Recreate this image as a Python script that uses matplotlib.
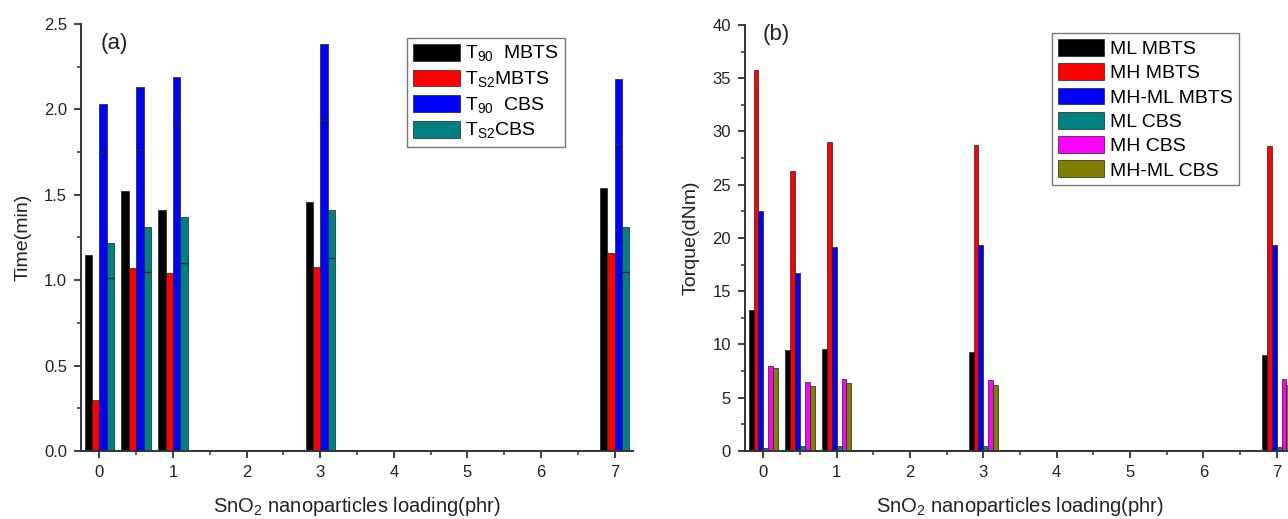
import numpy as np
import matplotlib.pyplot as plt
from matplotlib.ticker import MultipleLocator

plt.rcParams['font.family'] = ['Liberation Sans', 'DejaVu Sans']
plt.rcParams['mathtext.fontset'] = 'custom'
plt.rcParams['mathtext.rm'] = 'Liberation Sans'

loading = [0, 0.5, 1, 3, 7]

# panel (a) - times
t90_mbts = [1.15, 1.52, 1.41, 1.46, 1.54]
ts2_mbts = [0.30, 1.07, 1.04, 1.08, 1.16]
t90_cbs = [2.03, 2.13, 2.19, 2.38, 2.18]
ts2_cbs = [1.22, 1.31, 1.37, 1.41, 1.31]
# lower error caps visible inside the bars
t90_cbs_low = [1.75, 1.76, 1.91, 1.94, 1.80]
ts2_cbs_low = [1.01, 1.05, 1.10, 1.13, 1.05]

# panel (b) - torque
ml_mbts = [13.2, 9.5, 9.6, 9.3, 9.0]
mh_mbts = [35.8, 26.3, 29.0, 28.7, 28.6]
mhml_mbts = [22.5, 16.7, 19.2, 19.3, 19.3]
ml_cbs = [0.3, 0.5, 0.5, 0.5, 0.4]
mh_cbs = [8.0, 6.5, 6.8, 6.7, 6.8]
mhml_cbs = [7.8, 6.1, 6.4, 6.2, 6.2]

labels_a = [r'T$_\mathrm{90}$  MBTS', r'T$_\mathrm{S2}$MBTS', r'T$_\mathrm{90}$  CBS', r'T$_\mathrm{S2}$CBS']
labels_b = ['ML MBTS', 'MH MBTS', 'MH-ML MBTS', 'ML CBS', 'MH CBS', 'MH-ML CBS']
colors_a = ['#000000', '#ff0000', '#0000ff', '#008080']
colors_b = ['#000000', '#ff0000', '#0000ff', '#008080', '#ff00ff', '#808000']

fig = plt.figure(figsize=(12.88, 5.19), dpi=100)
axa = fig.add_axes([0.0629, 0.131, 0.4286, 0.8228])
axb = fig.add_axes([0.5784, 0.131, 0.4270, 0.8209])

x = np.array(loading)


def style(ax, ymax, ymaj, ymin, ylabel):
    ax.set_xlim(-0.25, 7.25)
    ax.set_ylim(0, ymax)
    ax.spines['top'].set_visible(False)
    ax.spines['right'].set_visible(False)
    for s in ['left', 'bottom']:
        ax.spines[s].set_linewidth(1.4)
        ax.spines[s].set_color('#333333')
    ax.xaxis.set_major_locator(MultipleLocator(1))
    ax.xaxis.set_minor_locator(MultipleLocator(0.5))
    ax.yaxis.set_major_locator(MultipleLocator(ymaj))
    ax.yaxis.set_minor_locator(MultipleLocator(ymin))
    ax.tick_params(which='major', direction='out', length=5, width=1.3, pad=5,
                   colors='#333333', labelsize=12, labelcolor='#222222')
    ax.tick_params(which='minor', direction='out', length=3, width=1.1, colors='#333333')
    ax.set_xlabel(r'SnO$_2$ nanoparticles loading(phr)', fontsize=14.5, color='#222222', labelpad=11)
    ax.set_ylabel(ylabel, fontsize=14, color='#222222', labelpad=9)


def legend(ax, left, top):
    leg = ax.legend(loc='upper left', bbox_to_anchor=(left, top), fontsize=14, frameon=True,
                    fancybox=False, edgecolor='#555555', handlelength=2.4, handleheight=0.95,
                    handletextpad=0.3, labelspacing=0.27, borderpad=0.3, borderaxespad=0)
    leg.get_frame().set_linewidth(1.0)


# (a)
series_a = [t90_mbts, ts2_mbts, t90_cbs, ts2_cbs]
w = 0.1
bars_a = []
for i, (vals, c, lab) in enumerate(zip(series_a, colors_a, labels_a)):
    off = (i - 1.5) * w
    b = axa.bar(x + off, vals, width=w, color=c, edgecolor='#202020', linewidth=0.5, label=lab)
    bars_a.append(b)
for b, lows in [(bars_a[2], t90_cbs_low), (bars_a[3], ts2_cbs_low)]:
    for rect, lo in zip(b, lows):
        axa.hlines(lo, rect.get_x(), rect.get_x() + rect.get_width(), color='#103040', lw=1.0)
style(axa, 2.5, 0.5, 0.25, 'Time(min)')
axa.yaxis.set_major_formatter(plt.FormatStrFormatter('%.1f'))
axa.text(0.035, 0.955, '(a)', transform=axa.transAxes, fontsize=16, va='center', color='#222222')
legend(axa, 0.5906, 0.967)

# (b)
series_b = [ml_mbts, mh_mbts, mhml_mbts, ml_cbs, mh_cbs, mhml_cbs]
wb = 0.4 / 6
for i, (vals, c, lab) in enumerate(zip(series_b, colors_b, labels_b)):
    off = (i - 2.5) * wb
    axb.bar(x + off, vals, width=wb, color=c, edgecolor='#202020', linewidth=0.5, label=lab)
style(axb, 40, 5, 2.5, 'Torque(dNm)')
axb.text(0.032, 0.977, '(b)', transform=axb.transAxes, fontsize=16, va='center', color='#222222')
legend(axb, 0.558, 0.981)

fig.savefig('out.png', dpi=100)
